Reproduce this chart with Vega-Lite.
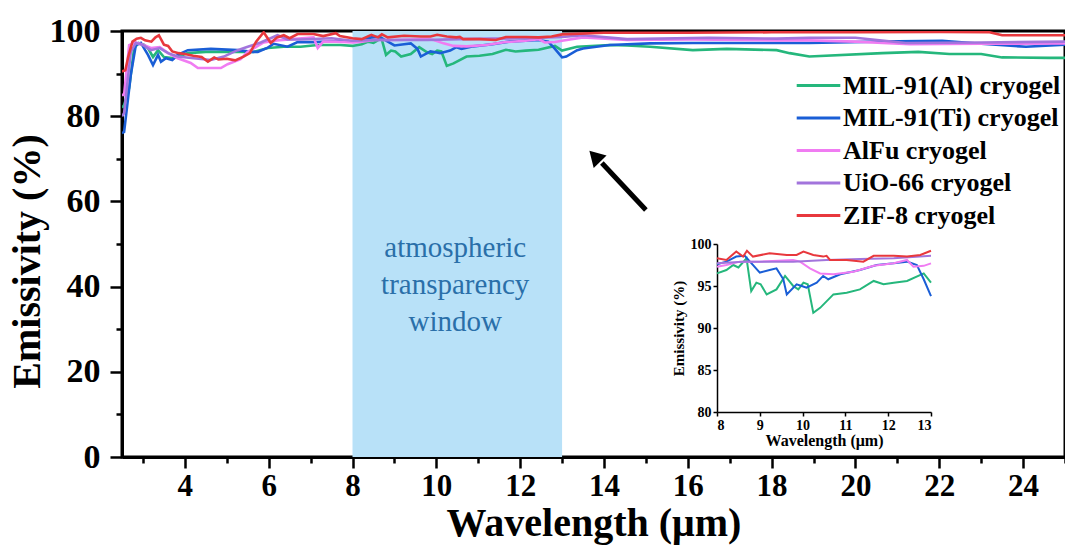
{
  "$schema": "https://vega.github.io/schema/vega-lite/v6.json",
  "width": 943,
  "height": 426,
  "autosize": {"type": "none"},
  "padding": {"left": 122, "top": 31, "right": 0, "bottom": 96},
  "background": "white",
  "config": {
    "font": "Liberation Serif",
    "view": {"stroke": "black", "strokeWidth": 3},
    "axis": {"grid": false, "domainColor": "black", "tickColor": "black", "labelColor": "black", "titleColor": "black", "labelFont": "Liberation Serif", "titleFont": "Liberation Serif", "labelFontWeight": "bold", "titleFontWeight": "bold"}
  },
  "datasets": {
    "spec": [
      {"s": "MIL-91(Al) cryogel", "w": 2.5, "e": 82.0},
      {"s": "MIL-91(Al) cryogel", "w": 2.55, "e": 82.6},
      {"s": "MIL-91(Al) cryogel", "w": 2.67, "e": 86.6},
      {"s": "MIL-91(Al) cryogel", "w": 2.79, "e": 96.0},
      {"s": "MIL-91(Al) cryogel", "w": 2.9, "e": 97.2},
      {"s": "MIL-91(Al) cryogel", "w": 3.02, "e": 96.8},
      {"s": "MIL-91(Al) cryogel", "w": 3.12, "e": 96.0},
      {"s": "MIL-91(Al) cryogel", "w": 3.24, "e": 93.9},
      {"s": "MIL-91(Al) cryogel", "w": 3.36, "e": 95.5},
      {"s": "MIL-91(Al) cryogel", "w": 3.5, "e": 93.9},
      {"s": "MIL-91(Al) cryogel", "w": 3.74, "e": 93.6},
      {"s": "MIL-91(Al) cryogel", "w": 4.07, "e": 94.8},
      {"s": "MIL-91(Al) cryogel", "w": 4.5, "e": 95.1},
      {"s": "MIL-91(Al) cryogel", "w": 5.17, "e": 95.1},
      {"s": "MIL-91(Al) cryogel", "w": 5.64, "e": 95.1},
      {"s": "MIL-91(Al) cryogel", "w": 5.98, "e": 96.0},
      {"s": "MIL-91(Al) cryogel", "w": 6.36, "e": 96.3},
      {"s": "MIL-91(Al) cryogel", "w": 6.76, "e": 96.3},
      {"s": "MIL-91(Al) cryogel", "w": 7.17, "e": 96.7},
      {"s": "MIL-91(Al) cryogel", "w": 7.71, "e": 96.7},
      {"s": "MIL-91(Al) cryogel", "w": 8.0, "e": 96.5},
      {"s": "MIL-91(Al) cryogel", "w": 8.22, "e": 96.9},
      {"s": "MIL-91(Al) cryogel", "w": 8.38, "e": 97.5},
      {"s": "MIL-91(Al) cryogel", "w": 8.5, "e": 97.2},
      {"s": "MIL-91(Al) cryogel", "w": 8.69, "e": 98.3},
      {"s": "MIL-91(Al) cryogel", "w": 8.8, "e": 94.4},
      {"s": "MIL-91(Al) cryogel", "w": 8.92, "e": 95.4},
      {"s": "MIL-91(Al) cryogel", "w": 9.02, "e": 95.2},
      {"s": "MIL-91(Al) cryogel", "w": 9.16, "e": 94.0},
      {"s": "MIL-91(Al) cryogel", "w": 9.39, "e": 94.6},
      {"s": "MIL-91(Al) cryogel", "w": 9.59, "e": 96.2},
      {"s": "MIL-91(Al) cryogel", "w": 9.78, "e": 95.0},
      {"s": "MIL-91(Al) cryogel", "w": 9.9, "e": 94.6},
      {"s": "MIL-91(Al) cryogel", "w": 10.02, "e": 95.4},
      {"s": "MIL-91(Al) cryogel", "w": 10.12, "e": 95.2},
      {"s": "MIL-91(Al) cryogel", "w": 10.25, "e": 91.8},
      {"s": "MIL-91(Al) cryogel", "w": 10.41, "e": 92.4},
      {"s": "MIL-91(Al) cryogel", "w": 10.72, "e": 94.0},
      {"s": "MIL-91(Al) cryogel", "w": 11.03, "e": 94.2},
      {"s": "MIL-91(Al) cryogel", "w": 11.34, "e": 94.6},
      {"s": "MIL-91(Al) cryogel", "w": 11.66, "e": 95.6},
      {"s": "MIL-91(Al) cryogel", "w": 11.89, "e": 95.2},
      {"s": "MIL-91(Al) cryogel", "w": 12.13, "e": 95.4},
      {"s": "MIL-91(Al) cryogel", "w": 12.44, "e": 95.6},
      {"s": "MIL-91(Al) cryogel", "w": 12.83, "e": 96.5},
      {"s": "MIL-91(Al) cryogel", "w": 13.0, "e": 95.4},
      {"s": "MIL-91(Al) cryogel", "w": 13.36, "e": 96.3},
      {"s": "MIL-91(Al) cryogel", "w": 14.14, "e": 96.7},
      {"s": "MIL-91(Al) cryogel", "w": 14.55, "e": 96.6},
      {"s": "MIL-91(Al) cryogel", "w": 15.1, "e": 96.3},
      {"s": "MIL-91(Al) cryogel", "w": 16.12, "e": 95.5},
      {"s": "MIL-91(Al) cryogel", "w": 16.93, "e": 95.8},
      {"s": "MIL-91(Al) cryogel", "w": 18.12, "e": 95.5},
      {"s": "MIL-91(Al) cryogel", "w": 18.43, "e": 94.8},
      {"s": "MIL-91(Al) cryogel", "w": 18.9, "e": 94.0},
      {"s": "MIL-91(Al) cryogel", "w": 20.64, "e": 94.8},
      {"s": "MIL-91(Al) cryogel", "w": 21.5, "e": 95.1},
      {"s": "MIL-91(Al) cryogel", "w": 22.24, "e": 94.6},
      {"s": "MIL-91(Al) cryogel", "w": 23.0, "e": 94.6},
      {"s": "MIL-91(Al) cryogel", "w": 23.5, "e": 93.8},
      {"s": "MIL-91(Al) cryogel", "w": 24.62, "e": 93.7},
      {"s": "MIL-91(Al) cryogel", "w": 25.0, "e": 93.7},

      {"s": "MIL-91(Ti) cryogel", "w": 2.5, "e": 76.0},
      {"s": "MIL-91(Ti) cryogel", "w": 2.55, "e": 76.3},
      {"s": "MIL-91(Ti) cryogel", "w": 2.71, "e": 89.7},
      {"s": "MIL-91(Ti) cryogel", "w": 2.83, "e": 96.7},
      {"s": "MIL-91(Ti) cryogel", "w": 2.95, "e": 97.2},
      {"s": "MIL-91(Ti) cryogel", "w": 3.12, "e": 94.4},
      {"s": "MIL-91(Ti) cryogel", "w": 3.24, "e": 92.0},
      {"s": "MIL-91(Ti) cryogel", "w": 3.36, "e": 94.4},
      {"s": "MIL-91(Ti) cryogel", "w": 3.43, "e": 92.8},
      {"s": "MIL-91(Ti) cryogel", "w": 3.55, "e": 93.6},
      {"s": "MIL-91(Ti) cryogel", "w": 3.7, "e": 93.2},
      {"s": "MIL-91(Ti) cryogel", "w": 3.83, "e": 94.4},
      {"s": "MIL-91(Ti) cryogel", "w": 4.07, "e": 95.5},
      {"s": "MIL-91(Ti) cryogel", "w": 4.62, "e": 95.8},
      {"s": "MIL-91(Ti) cryogel", "w": 5.26, "e": 95.5},
      {"s": "MIL-91(Ti) cryogel", "w": 5.6, "e": 95.1},
      {"s": "MIL-91(Ti) cryogel", "w": 5.74, "e": 95.1},
      {"s": "MIL-91(Ti) cryogel", "w": 5.98, "e": 96.1},
      {"s": "MIL-91(Ti) cryogel", "w": 6.12, "e": 97.0},
      {"s": "MIL-91(Ti) cryogel", "w": 6.45, "e": 96.3},
      {"s": "MIL-91(Ti) cryogel", "w": 6.69, "e": 97.4},
      {"s": "MIL-91(Ti) cryogel", "w": 7.07, "e": 97.4},
      {"s": "MIL-91(Ti) cryogel", "w": 7.55, "e": 97.6},
      {"s": "MIL-91(Ti) cryogel", "w": 8.0, "e": 97.6},
      {"s": "MIL-91(Ti) cryogel", "w": 8.22, "e": 97.9},
      {"s": "MIL-91(Ti) cryogel", "w": 8.45, "e": 98.5},
      {"s": "MIL-91(Ti) cryogel", "w": 8.65, "e": 98.6},
      {"s": "MIL-91(Ti) cryogel", "w": 8.77, "e": 97.9},
      {"s": "MIL-91(Ti) cryogel", "w": 9.0, "e": 96.6},
      {"s": "MIL-91(Ti) cryogel", "w": 9.23, "e": 96.9},
      {"s": "MIL-91(Ti) cryogel", "w": 9.39, "e": 97.1},
      {"s": "MIL-91(Ti) cryogel", "w": 9.55, "e": 95.8},
      {"s": "MIL-91(Ti) cryogel", "w": 9.63, "e": 94.0},
      {"s": "MIL-91(Ti) cryogel", "w": 9.86, "e": 95.2},
      {"s": "MIL-91(Ti) cryogel", "w": 9.98, "e": 95.0},
      {"s": "MIL-91(Ti) cryogel", "w": 10.09, "e": 94.8},
      {"s": "MIL-91(Ti) cryogel", "w": 10.33, "e": 95.4},
      {"s": "MIL-91(Ti) cryogel", "w": 10.48, "e": 96.2},
      {"s": "MIL-91(Ti) cryogel", "w": 10.6, "e": 95.8},
      {"s": "MIL-91(Ti) cryogel", "w": 10.88, "e": 96.4},
      {"s": "MIL-91(Ti) cryogel", "w": 11.34, "e": 96.9},
      {"s": "MIL-91(Ti) cryogel", "w": 11.73, "e": 97.5},
      {"s": "MIL-91(Ti) cryogel", "w": 12.13, "e": 97.7},
      {"s": "MIL-91(Ti) cryogel", "w": 12.44, "e": 97.9},
      {"s": "MIL-91(Ti) cryogel", "w": 12.67, "e": 97.5},
      {"s": "MIL-91(Ti) cryogel", "w": 12.83, "e": 95.8},
      {"s": "MIL-91(Ti) cryogel", "w": 13.0, "e": 93.8},
      {"s": "MIL-91(Ti) cryogel", "w": 13.1, "e": 94.0},
      {"s": "MIL-91(Ti) cryogel", "w": 13.36, "e": 95.5},
      {"s": "MIL-91(Ti) cryogel", "w": 13.5, "e": 95.9},
      {"s": "MIL-91(Ti) cryogel", "w": 14.14, "e": 96.7},
      {"s": "MIL-91(Ti) cryogel", "w": 15.1, "e": 97.1},
      {"s": "MIL-91(Ti) cryogel", "w": 16.12, "e": 97.2},
      {"s": "MIL-91(Ti) cryogel", "w": 18.12, "e": 97.2},
      {"s": "MIL-91(Ti) cryogel", "w": 18.9, "e": 97.2},
      {"s": "MIL-91(Ti) cryogel", "w": 20.5, "e": 97.5},
      {"s": "MIL-91(Ti) cryogel", "w": 22.07, "e": 97.7},
      {"s": "MIL-91(Ti) cryogel", "w": 23.0, "e": 97.0},
      {"s": "MIL-91(Ti) cryogel", "w": 24.07, "e": 96.3},
      {"s": "MIL-91(Ti) cryogel", "w": 25.0, "e": 96.8},

      {"s": "AlFu cryogel", "w": 2.5, "e": 85.0},
      {"s": "AlFu cryogel", "w": 2.55, "e": 85.0},
      {"s": "AlFu cryogel", "w": 2.67, "e": 96.7},
      {"s": "AlFu cryogel", "w": 2.83, "e": 97.3},
      {"s": "AlFu cryogel", "w": 3.02, "e": 96.7},
      {"s": "AlFu cryogel", "w": 3.19, "e": 96.0},
      {"s": "AlFu cryogel", "w": 3.4, "e": 96.2},
      {"s": "AlFu cryogel", "w": 3.6, "e": 94.8},
      {"s": "AlFu cryogel", "w": 3.83, "e": 93.6},
      {"s": "AlFu cryogel", "w": 4.14, "e": 92.5},
      {"s": "AlFu cryogel", "w": 4.31, "e": 91.3},
      {"s": "AlFu cryogel", "w": 4.6, "e": 91.3},
      {"s": "AlFu cryogel", "w": 4.86, "e": 91.3},
      {"s": "AlFu cryogel", "w": 5.02, "e": 92.2},
      {"s": "AlFu cryogel", "w": 5.33, "e": 93.4},
      {"s": "AlFu cryogel", "w": 5.5, "e": 95.1},
      {"s": "AlFu cryogel", "w": 5.88, "e": 97.3},
      {"s": "AlFu cryogel", "w": 6.2, "e": 97.8},
      {"s": "AlFu cryogel", "w": 7.07, "e": 98.5},
      {"s": "AlFu cryogel", "w": 7.17, "e": 96.0},
      {"s": "AlFu cryogel", "w": 7.3, "e": 97.5},
      {"s": "AlFu cryogel", "w": 7.6, "e": 97.5},
      {"s": "AlFu cryogel", "w": 8.0, "e": 97.3},
      {"s": "AlFu cryogel", "w": 8.22, "e": 97.5},
      {"s": "AlFu cryogel", "w": 8.53, "e": 97.9},
      {"s": "AlFu cryogel", "w": 9.0, "e": 97.9},
      {"s": "AlFu cryogel", "w": 9.78, "e": 98.1},
      {"s": "AlFu cryogel", "w": 9.94, "e": 97.9},
      {"s": "AlFu cryogel", "w": 10.17, "e": 97.1},
      {"s": "AlFu cryogel", "w": 10.41, "e": 96.5},
      {"s": "AlFu cryogel", "w": 10.72, "e": 96.4},
      {"s": "AlFu cryogel", "w": 11.19, "e": 96.7},
      {"s": "AlFu cryogel", "w": 11.66, "e": 97.4},
      {"s": "AlFu cryogel", "w": 12.13, "e": 97.7},
      {"s": "AlFu cryogel", "w": 12.44, "e": 98.1},
      {"s": "AlFu cryogel", "w": 12.59, "e": 97.3},
      {"s": "AlFu cryogel", "w": 12.83, "e": 97.4},
      {"s": "AlFu cryogel", "w": 13.0, "e": 97.7},
      {"s": "AlFu cryogel", "w": 13.5, "e": 98.5},
      {"s": "AlFu cryogel", "w": 14.55, "e": 97.9},
      {"s": "AlFu cryogel", "w": 16.12, "e": 98.0},
      {"s": "AlFu cryogel", "w": 18.12, "e": 97.8},
      {"s": "AlFu cryogel", "w": 18.9, "e": 97.8},
      {"s": "AlFu cryogel", "w": 20.0, "e": 97.5},
      {"s": "AlFu cryogel", "w": 21.3, "e": 96.9},
      {"s": "AlFu cryogel", "w": 23.0, "e": 97.0},
      {"s": "AlFu cryogel", "w": 25.0, "e": 97.1},

      {"s": "UiO-66 cryogel", "w": 2.5, "e": 80.0},
      {"s": "UiO-66 cryogel", "w": 2.55, "e": 80.7},
      {"s": "UiO-66 cryogel", "w": 2.71, "e": 95.1},
      {"s": "UiO-66 cryogel", "w": 2.83, "e": 97.2},
      {"s": "UiO-66 cryogel", "w": 3.0, "e": 96.7},
      {"s": "UiO-66 cryogel", "w": 3.19, "e": 95.5},
      {"s": "UiO-66 cryogel", "w": 3.4, "e": 96.0},
      {"s": "UiO-66 cryogel", "w": 3.6, "e": 94.8},
      {"s": "UiO-66 cryogel", "w": 3.83, "e": 94.0},
      {"s": "UiO-66 cryogel", "w": 4.21, "e": 93.6},
      {"s": "UiO-66 cryogel", "w": 4.62, "e": 93.2},
      {"s": "UiO-66 cryogel", "w": 4.93, "e": 94.0},
      {"s": "UiO-66 cryogel", "w": 5.17, "e": 95.1},
      {"s": "UiO-66 cryogel", "w": 5.26, "e": 95.5},
      {"s": "UiO-66 cryogel", "w": 5.5, "e": 96.3},
      {"s": "UiO-66 cryogel", "w": 5.81, "e": 97.3},
      {"s": "UiO-66 cryogel", "w": 6.21, "e": 99.0},
      {"s": "UiO-66 cryogel", "w": 6.45, "e": 98.0},
      {"s": "UiO-66 cryogel", "w": 6.76, "e": 98.0},
      {"s": "UiO-66 cryogel", "w": 7.5, "e": 98.3},
      {"s": "UiO-66 cryogel", "w": 8.0, "e": 97.7},
      {"s": "UiO-66 cryogel", "w": 8.61, "e": 97.9},
      {"s": "UiO-66 cryogel", "w": 9.0, "e": 97.9},
      {"s": "UiO-66 cryogel", "w": 9.78, "e": 97.9},
      {"s": "UiO-66 cryogel", "w": 10.56, "e": 98.1},
      {"s": "UiO-66 cryogel", "w": 11.34, "e": 98.2},
      {"s": "UiO-66 cryogel", "w": 12.13, "e": 98.3},
      {"s": "UiO-66 cryogel", "w": 13.0, "e": 98.6},
      {"s": "UiO-66 cryogel", "w": 13.5, "e": 99.0},
      {"s": "UiO-66 cryogel", "w": 14.55, "e": 98.1},
      {"s": "UiO-66 cryogel", "w": 16.5, "e": 98.4},
      {"s": "UiO-66 cryogel", "w": 18.12, "e": 98.2},
      {"s": "UiO-66 cryogel", "w": 18.9, "e": 98.4},
      {"s": "UiO-66 cryogel", "w": 20.0, "e": 98.4},
      {"s": "UiO-66 cryogel", "w": 21.2, "e": 97.2},
      {"s": "UiO-66 cryogel", "w": 23.0, "e": 97.3},
      {"s": "UiO-66 cryogel", "w": 25.0, "e": 97.5},

      {"s": "ZIF-8 cryogel", "w": 2.5, "e": 90.5},
      {"s": "ZIF-8 cryogel", "w": 2.58, "e": 90.8},
      {"s": "ZIF-8 cryogel", "w": 2.65, "e": 94.0},
      {"s": "ZIF-8 cryogel", "w": 2.75, "e": 97.5},
      {"s": "ZIF-8 cryogel", "w": 2.85, "e": 98.2},
      {"s": "ZIF-8 cryogel", "w": 2.95, "e": 98.4},
      {"s": "ZIF-8 cryogel", "w": 3.05, "e": 97.8},
      {"s": "ZIF-8 cryogel", "w": 3.2, "e": 97.5},
      {"s": "ZIF-8 cryogel", "w": 3.3, "e": 98.5},
      {"s": "ZIF-8 cryogel", "w": 3.38, "e": 99.0},
      {"s": "ZIF-8 cryogel", "w": 3.5, "e": 96.8},
      {"s": "ZIF-8 cryogel", "w": 3.6, "e": 96.5},
      {"s": "ZIF-8 cryogel", "w": 3.7, "e": 95.2},
      {"s": "ZIF-8 cryogel", "w": 3.85, "e": 94.8},
      {"s": "ZIF-8 cryogel", "w": 4.0, "e": 94.6},
      {"s": "ZIF-8 cryogel", "w": 4.2, "e": 94.2},
      {"s": "ZIF-8 cryogel", "w": 4.4, "e": 93.9},
      {"s": "ZIF-8 cryogel", "w": 4.55, "e": 92.8},
      {"s": "ZIF-8 cryogel", "w": 4.7, "e": 93.8},
      {"s": "ZIF-8 cryogel", "w": 4.8, "e": 93.3},
      {"s": "ZIF-8 cryogel", "w": 5.0, "e": 93.5},
      {"s": "ZIF-8 cryogel", "w": 5.2, "e": 93.1},
      {"s": "ZIF-8 cryogel", "w": 5.4, "e": 94.0},
      {"s": "ZIF-8 cryogel", "w": 5.55, "e": 94.8},
      {"s": "ZIF-8 cryogel", "w": 5.7, "e": 97.5},
      {"s": "ZIF-8 cryogel", "w": 5.88, "e": 99.7},
      {"s": "ZIF-8 cryogel", "w": 6.05, "e": 97.2},
      {"s": "ZIF-8 cryogel", "w": 6.2, "e": 98.5},
      {"s": "ZIF-8 cryogel", "w": 6.36, "e": 99.0},
      {"s": "ZIF-8 cryogel", "w": 6.5, "e": 98.3},
      {"s": "ZIF-8 cryogel", "w": 6.69, "e": 99.3},
      {"s": "ZIF-8 cryogel", "w": 7.07, "e": 99.3},
      {"s": "ZIF-8 cryogel", "w": 7.3, "e": 98.8},
      {"s": "ZIF-8 cryogel", "w": 7.6, "e": 99.5},
      {"s": "ZIF-8 cryogel", "w": 7.7, "e": 98.8},
      {"s": "ZIF-8 cryogel", "w": 8.0, "e": 98.3},
      {"s": "ZIF-8 cryogel", "w": 8.22, "e": 98.1},
      {"s": "ZIF-8 cryogel", "w": 8.45, "e": 99.1},
      {"s": "ZIF-8 cryogel", "w": 8.61, "e": 98.5},
      {"s": "ZIF-8 cryogel", "w": 8.7, "e": 99.2},
      {"s": "ZIF-8 cryogel", "w": 8.84, "e": 98.5},
      {"s": "ZIF-8 cryogel", "w": 9.23, "e": 98.9},
      {"s": "ZIF-8 cryogel", "w": 9.63, "e": 98.7},
      {"s": "ZIF-8 cryogel", "w": 9.86, "e": 98.7},
      {"s": "ZIF-8 cryogel", "w": 10.02, "e": 99.1},
      {"s": "ZIF-8 cryogel", "w": 10.25, "e": 98.7},
      {"s": "ZIF-8 cryogel", "w": 10.48, "e": 98.5},
      {"s": "ZIF-8 cryogel", "w": 10.56, "e": 98.6},
      {"s": "ZIF-8 cryogel", "w": 10.64, "e": 98.1},
      {"s": "ZIF-8 cryogel", "w": 11.03, "e": 98.1},
      {"s": "ZIF-8 cryogel", "w": 11.42, "e": 97.9},
      {"s": "ZIF-8 cryogel", "w": 11.66, "e": 98.6},
      {"s": "ZIF-8 cryogel", "w": 12.13, "e": 98.6},
      {"s": "ZIF-8 cryogel", "w": 12.44, "e": 98.5},
      {"s": "ZIF-8 cryogel", "w": 12.75, "e": 98.7},
      {"s": "ZIF-8 cryogel", "w": 13.0, "e": 99.2},
      {"s": "ZIF-8 cryogel", "w": 14.0, "e": 99.6},
      {"s": "ZIF-8 cryogel", "w": 16.0, "e": 99.6},
      {"s": "ZIF-8 cryogel", "w": 18.0, "e": 99.7},
      {"s": "ZIF-8 cryogel", "w": 20.0, "e": 99.7},
      {"s": "ZIF-8 cryogel", "w": 22.0, "e": 99.8},
      {"s": "ZIF-8 cryogel", "w": 23.2, "e": 99.7},
      {"s": "ZIF-8 cryogel", "w": 23.5, "e": 99.0},
      {"s": "ZIF-8 cryogel", "w": 25.0, "e": 99.0}
    ]
  },
  "layer": [
    {
      "layer": [
        {
          "data": {"values": [{"band": "atmospheric window"}]},
          "mark": {"type": "rect", "color": "#b8e1f8", "opacity": 1},
          "encoding": {
            "x": {"datum": 8, "type": "quantitative"},
            "x2": {"datum": 13}
          }
        },
        {
          "data": {"values": [{"band": "atmospheric window"}]},
          "mark": {"type": "text", "text": ["atmospheric", "transparency", "window"], "font": "Liberation Serif", "fontSize": 29, "color": "#2a6fa9", "align": "center", "baseline": "alphabetic", "lineHeight": 37},
          "encoding": {
            "x": {"datum": 10.45, "type": "quantitative"},
            "y": {"datum": 47, "type": "quantitative"}
          }
        },
        {
          "data": {"name": "spec"},
          "mark": {"type": "line", "strokeWidth": 2.6, "clip": true},
          "encoding": {
            "x": {
              "field": "w", "type": "quantitative",
              "scale": {"domain": [2.5, 25], "nice": false, "zero": false},
              "axis": {
                "title": "Wavelength (μm)", "titleFontSize": 40, "titlePadding": 2,
                "values": [3,4,5,6,7,8,9,10,11,12,13,14,15,16,17,18,19,20,21,22,23,24,25],
                "labelExpr": "datum.value % 2 === 0 ? datum.label : ''",
                "labelFontSize": 31, "labelPadding": 3,
                "tickSize": {"condition": {"test": "datum.value % 2 === 0", "value": 11}, "value": 6},
                "tickWidth": 2.5, "domainWidth": 3, "labelFlush": false
              }
            },
            "y": {
              "field": "e", "type": "quantitative",
              "scale": {"domain": [0, 100], "nice": false},
              "axis": {
                "title": "Emissivity (%)", "titleFontSize": 40, "titlePadding": 2, "titleY": 230,
                "values": [0,10,20,30,40,50,60,70,80,90,100],
                "labelExpr": "datum.value % 20 === 0 ? datum.label : ''",
                "labelFontSize": 34, "labelPadding": 10,
                "tickSize": {"condition": {"test": "datum.value % 20 === 0", "value": 12}, "value": 6},
                "tickWidth": 2.5, "domainWidth": 3, "labelFlush": false
              }
            },
            "color": {
              "field": "s", "type": "nominal",
              "scale": {
                "domain": ["MIL-91(Al) cryogel", "MIL-91(Ti) cryogel", "AlFu cryogel", "UiO-66 cryogel", "ZIF-8 cryogel"],
                "range": ["#25b77c", "#1a5ed6", "#f07cf2", "#a274dc", "#e8383d"]
              },
              "legend": {
                "title": null, "orient": "none", "legendX": 673, "legendY": 40,
                "symbolType": "stroke", "symbolSize": 1900, "symbolStrokeWidth": 3,
                "labelFont": "Liberation Serif", "labelFontWeight": "bold", "labelFontSize": 26,
                "labelColor": "black", "clipHeight": 29, "rowPadding": 3.5, "labelOffset": 1, "padding": 0, "labelLimit": 400
              }
            },
            "order": {"field": "w", "type": "quantitative"}
          }
        },
        {
          "data": {"values": [{"arrow": "pointer"}]},
          "mark": {"type": "rule", "color": "black", "strokeWidth": 5},
          "encoding": {
            "x": {"datum": 15.0, "type": "quantitative"},
            "y": {"datum": 58.0, "type": "quantitative"},
            "x2": {"datum": 13.95},
            "y2": {"datum": 69.0}
          }
        },
        {
          "data": {"values": [{"arrow": "head"}]},
          "mark": {"type": "point", "shape": "triangle-up", "filled": true, "color": "black", "size": 320, "angle": 316, "opacity": 1},
          "encoding": {
            "x": {"datum": 13.78, "type": "quantitative"},
            "y": {"datum": 70.6, "type": "quantitative"}
          }
        }
      ]
    },
    {
      "data": {"name": "spec"},
      "transform": [{"filter": "datum.w >= 8 && datum.w <= 13"}],
      "mark": {"type": "line", "strokeWidth": 2},
      "encoding": {
        "x": {
          "field": "w", "type": "quantitative",
          "scale": {"domain": [8, 13], "range": [595, 809], "nice": false, "zero": false},
          "axis": {
            "orient": "bottom", "offset": -45, "title": "Wavelength (μm)", "titleFontSize": 16, "titlePadding": 0,
            "values": [8, 9, 10, 11, 12, 13], "labelFontSize": 14, "labelPadding": 2, "tickSize": 4, "domainWidth": 1.5, "tickWidth": 1.5
          }
        },
        "y": {
          "field": "e", "type": "quantitative",
          "scale": {"domain": [80, 100], "range": [381, 213], "nice": false, "zero": false},
          "axis": {
            "orient": "left", "offset": -595, "title": "Emissivity (%)", "titleFontSize": 15, "titlePadding": 4,
            "values": [80, 85, 90, 95, 100], "labelFontSize": 14, "labelPadding": 2, "tickSize": 4, "domainWidth": 1.5, "tickWidth": 1.5
          }
        },
        "color": {"field": "s", "type": "nominal", "legend": null},
        "order": {"field": "w", "type": "quantitative"}
      }
    }
  ],
  "resolve": {"scale": {"x": "independent", "y": "independent"}, "axis": {"x": "independent", "y": "independent"}}
}
